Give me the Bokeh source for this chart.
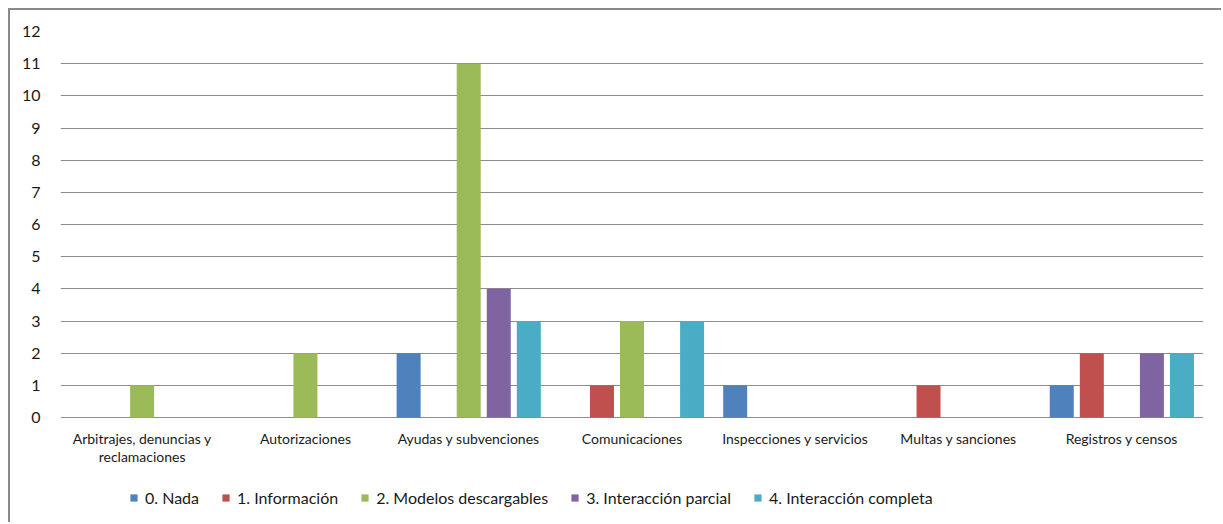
from bokeh.plotting import figure
from bokeh.models import Legend, LegendItem, FactorRange, FixedTicker, ColumnDataSource
from bokeh.core.properties import value
from bokeh.transform import dodge
from bokeh.embed import file_html
from bokeh.resources import INLINE

categories = ["Arbitrajes, denuncias y reclamaciones", "Autorizaciones", "Ayudas y subvenciones",
              "Comunicaciones", "Inspecciones y servicios", "Multas y sanciones", "Registros y censos"]
label_line1 = ["Arbitrajes, denuncias y", "Autorizaciones", "Ayudas y subvenciones",
               "Comunicaciones", "Inspecciones y servicios", "Multas y sanciones", "Registros y censos"]
label_line2 = ["reclamaciones", "", "", "", "", "", ""]
series_names = ["0. Nada", "1. Información", "2. Modelos descargables",
                "3. Interacción parcial", "4. Interacción completa"]
y_ticks = [0, 1, 2, 3, 4, 5, 6, 7, 8, 9, 10, 11, 12]
nada = [0, 0, 2, 0, 1, 0, 1]
informacion = [0, 0, 0, 1, 0, 1, 2]
modelos = [1, 2, 11, 3, 0, 0, 0]
parcial = [0, 0, 4, 0, 0, 0, 2]
completa = [0, 0, 3, 3, 0, 0, 2]
colors = ["#4F81BD", "#C0504D", "#9BBB59", "#8064A2", "#4BACC6"]

source = ColumnDataSource(dict(cat=categories, l1=label_line1, l2=label_line2,
                               s0=nada, s1=informacion, s2=modelos, s3=parcial, s4=completa))

FONT = "Lato"
TXT = "#1a1a1a"
# frame spans from the top gridline down to the bottom of the canvas; the space below 0
# holds the category labels and the legend
px_per_unit = (407 - 21) / 12.0
below_units = (514 - 407) / px_per_unit
p = figure(x_range=FactorRange(*categories), y_range=(-below_units, 12), width=1213, height=514,
           output_backend="svg", toolbar_location=None,
           min_border_left=50, min_border_top=21, min_border_right=20, min_border_bottom=0)
p.styles = {"margin-left": "8px", "margin-top": "8px",
            "border-left": "2px solid #8a8a8a", "border-top": "2px solid #8a8a8a"}

offsets = [-0.368, -0.184, 0.0, 0.184, 0.368]
renderers = []
for i, key in enumerate(["s0", "s1", "s2", "s3", "s4"]):
    r = p.vbar(x=dodge("cat", offsets[i], range=p.x_range), top=key, width=0.147,
               source=source, color=colors[i], line_color=None)
    renderers.append(r)

# category labels (two lines for the first category)
p.text(x="cat", y=0, text="l1", source=source, y_offset=21, text_align="center",
       text_baseline="middle", text_font=value(FONT), text_font_size="14px", text_color=TXT)
p.text(x="cat", y=0, text="l2", source=source, y_offset=39, text_align="center",
       text_baseline="middle", text_font=value(FONT), text_font_size="14px", text_color=TXT)

p.x_range.range_padding = 0
p.outline_line_color = None
p.background_fill_color = "white"
p.border_fill_color = "white"
p.xaxis.visible = False

p.ygrid.ticker = FixedTicker(ticks=y_ticks)
p.ygrid.grid_line_color = "#8c8c8c"
p.ygrid.grid_line_width = 1
p.xgrid.grid_line_color = None
p.yaxis.ticker = FixedTicker(ticks=y_ticks)
p.yaxis.axis_line_color = None
p.yaxis.major_tick_line_color = None
p.yaxis.minor_tick_line_color = None
p.yaxis.major_label_text_font = FONT
p.yaxis.major_label_text_font_size = "16px"
p.yaxis.major_label_text_color = TXT
p.yaxis.major_label_standoff = 14

legend = Legend(items=[LegendItem(label=n, renderers=[r]) for n, r in zip(series_names, renderers)],
                orientation="horizontal", location=(69, 17),
                label_text_font=FONT, label_text_font_size="16px", label_text_color=TXT,
                glyph_width=9, glyph_height=9, label_standoff=7, spacing=22,
                border_line_color=None, background_fill_alpha=0, padding=0, margin=0)
p.add_layout(legend, "center")

open("out.html", "w").write(file_html(p, INLINE))
